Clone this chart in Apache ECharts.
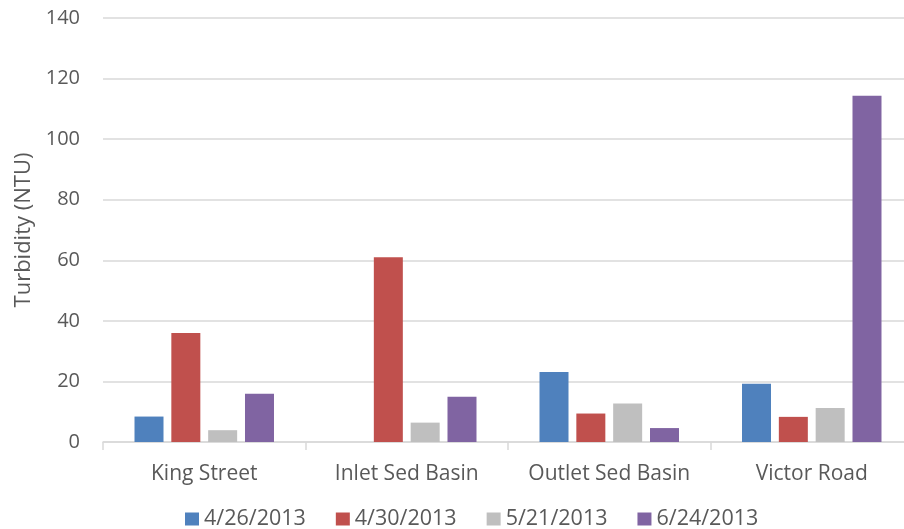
<!DOCTYPE html>
<html>
<head>
<meta charset="utf-8">
<script src="https://cdn.jsdelivr.net/npm/echarts@6/dist/echarts.min.js"></script>
<style>
  html, body { margin: 0; padding: 0; background: #fff; }
  #chart { width: 904px; height: 529px; }
</style>
</head>
<body>
<div id="chart"></div>
<script>
// 站点 / 采样日期 / 浊度
const categories = ['King Street', 'Inlet Sed Basin', 'Outlet Sed Basin', 'Victor Road'];
const dates = ['4/26/2013', '4/30/2013', '5/21/2013', '6/24/2013'];
const d0426 = [8.4, '-', 23.1, 19.2];
const d0430 = [36.0, 61.0, 9.4, 8.3];
const d0521 = [3.9, 6.4, 12.7, 11.2];
const d0624 = [15.9, 14.9, 4.6, 114.3];
const yTicks = [0, 20, 40, 60, 80, 100, 120, 140];

const colors = ['#4F81BD', '#C0504D', '#BFBFBF', '#8064A2'];
const seriesData = [d0426, d0430, d0521, d0624];
const textColor = '#595959';
const fontFamily = '"Open Sans", "Noto Sans", sans-serif';

let myChart = echarts.init(document.getElementById('chart'));
let option = {
  animation: false,
  color: colors,
  textStyle: { fontFamily: fontFamily },
  grid: {
    left: 103,
    right: -9,
    top: 18,
    bottom: 87,
    outerBoundsMode: 'none'
  },
  legend: {
    left: 185,
    top: 508,
    padding: 0,
    itemWidth: 14,
    itemHeight: 13,
    itemGap: 30,
    icon: 'rect',
    textStyle: { color: textColor, fontSize: 21.5, fontFamily: fontFamily },
    data: dates
  },
  xAxis: {
    type: 'category',
    data: categories,
    axisLine: { lineStyle: { color: '#D9D9D9', width: 1.5 } },
    axisTick: { show: true, length: 8, lineStyle: { color: '#D9D9D9', width: 1.5 } },
    axisLabel: { interval: 0, color: textColor, fontSize: 21, margin: 22, fontFamily: fontFamily }
  },
  yAxis: {
    type: 'value',
    min: yTicks[0],
    max: yTicks[yTicks.length - 1],
    interval: 20,
    name: 'Turbidity (NTU)',
    nameLocation: 'middle',
    nameGap: 68,
    nameTextStyle: { color: textColor, fontSize: 22, fontFamily: fontFamily },
    axisLine: { show: false },
    axisTick: { show: false },
    axisLabel: { color: textColor, fontSize: 20, margin: 23, fontFamily: fontFamily },
    splitLine: { lineStyle: { color: '#D9D9D9', width: 1.5 } }
  },
  series: dates.map((d, i) => ({
    name: d,
    type: 'bar',
    barWidth: 29,
    barGap: '27%',
    data: seriesData[i]
  }))
};
myChart.setOption(option);
</script>
</body>
</html>
